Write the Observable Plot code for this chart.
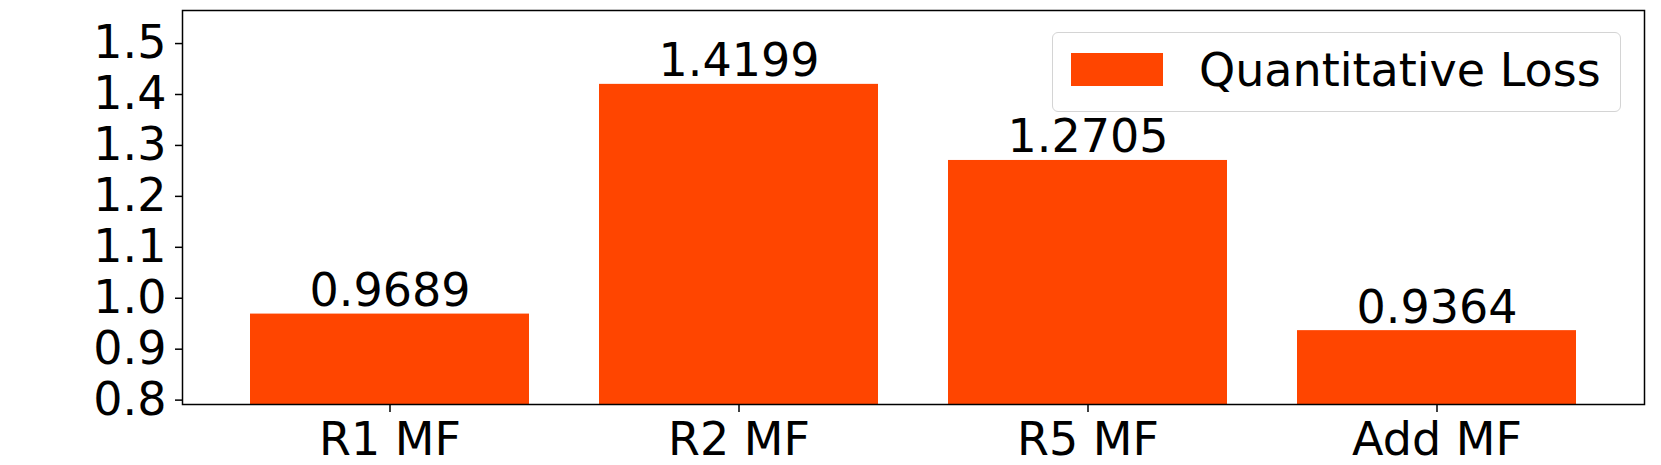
<!DOCTYPE html>
<html>
<head>
<meta charset="utf-8">
<script src="https://cdn.jsdelivr.net/npm/d3@7"></script>
<script src="https://cdn.jsdelivr.net/npm/@observablehq/plot@0.6"></script>
<style>
  html, body { margin: 0; padding: 0; background: #fff; }
  #wrap { position: relative; width: 1661px; height: 465px; font-family: "DejaVu Sans", sans-serif; }
  #legend {
    position: absolute; left: 1052px; top: 32px; width: 567px; height: 78px;
    border: 1.5px solid #d4d4d4; border-radius: 6px; background: rgba(255,255,255,0.8);
    box-sizing: content-box;
  }
  #legend .sw { position: absolute; left: 18px; top: 20px; width: 92px; height: 33px; background: #FF4500; }
  #legend .lb { position: absolute; left: 146px; top: 10px; font-size: 46px; line-height: 54px; color: #000; white-space: nowrap; }
</style>
</head>
<body>
<div id="wrap"></div>
<script>
const categories = ["R1 MF", "R2 MF", "R5 MF", "Add MF"];
const losses = [0.9689, 1.4199, 1.2705, 0.9364];
const yTicks = [0.8, 0.9, 1.0, 1.1, 1.2, 1.3, 1.4, 1.5];
const seriesName = "Quantitative Loss";
const barColor = "#FF4500";

const data = categories.map((c, i) => ({category: c, value: losses[i]}));
const yDomain = [0.7914, 1.5649];

const chart = Plot.plot({
  width: 1661,
  height: 465,
  marginLeft: 182,
  marginRight: 17,
  marginTop: 10,
  marginBottom: 61,
  style: {fontFamily: "DejaVu Sans, sans-serif", fontSize: "46px", color: "#000", background: "#fff"},
  x: {domain: categories, paddingInner: 0.2, paddingOuter: 0.19, label: null},
  y: {domain: yDomain, label: null},
  marks: [
    Plot.barY(data, {x: "category", y: "value", fill: barColor, clip: true}),
    Plot.text(data, {x: "category", y: "value", text: d => d.value.toFixed(4), dy: -8, lineAnchor: "bottom", textAnchor: "middle", fontSize: 46, fill: "#000"}),
    Plot.axisY({ticks: yTicks, tickFormat: d => d.toFixed(1), tickSize: 7, tickPadding: 9, strokeWidth: 1.5, fontSize: 46, label: null}),
    Plot.axisX({tickSize: 8, tickPadding: 10, strokeWidth: 1.5, fontSize: 46, label: null}),
    Plot.frame({stroke: "#000", strokeWidth: 1.5})
  ]
});

const wrap = document.getElementById("wrap");
wrap.appendChild(chart);
const legend = document.createElement("div");
legend.id = "legend";
legend.innerHTML = `<div class="sw"></div><div class="lb"></div>`;
legend.querySelector(".sw").style.background = barColor;
legend.querySelector(".lb").textContent = seriesName;
wrap.appendChild(legend);
</script>
</body>
</html>
